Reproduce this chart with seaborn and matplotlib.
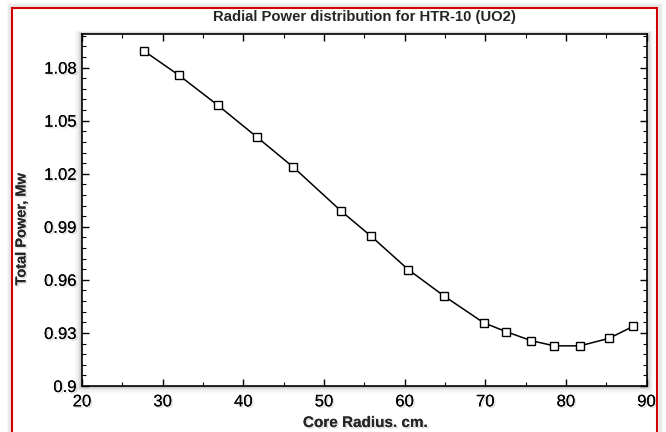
import matplotlib
matplotlib.use("Agg")
import matplotlib.pyplot as plt
from matplotlib.patches import Rectangle
from matplotlib.ticker import MultipleLocator, FormatStrFormatter
import matplotlib.patheffects as pe
import seaborn as sns
import pandas as pd

radius = [27.66, 32.05, 36.88, 41.75, 46.21, 52.16, 55.87, 60.46, 64.92,
          69.79, 72.60, 75.66, 78.55, 81.73, 85.33, 88.38]
power = [1.0895, 1.0756, 1.0586, 1.0405, 1.0237, 0.9988, 0.9846, 0.9658,
         0.9508, 0.9358, 0.9307, 0.9257, 0.9227, 0.9227, 0.9269, 0.9338]

title = "Radial Power distribution for HTR-10 (UO2)"
xlabel = "Core Radius. cm."
ylabel = "Total Power, Mw"

df = pd.DataFrame({"radius": radius, "power": power})

sns.set_theme(style="white")
plt.rcParams['font.family'] = ['Liberation Sans', 'DejaVu Sans']

W, H = 666, 432
fig = plt.figure(figsize=(W / 100, H / 100), dpi=100)
fig.patch.set_facecolor("white")

# soft shadow outside the red frame
for i, a in enumerate([0.04, 0.07, 0.10]):
    off = 4 - i
    fig.add_artist(Rectangle(((12 - off) / W, -0.05), (645 + 2 * off) / W,
                             (424 + off) / H + 0.05,
                             transform=fig.transFigure, fill=False,
                             edgecolor="gray", lw=2.5, alpha=a, zorder=0))
fig.add_artist(Rectangle((12 / W, -0.01), 645 / W, 424 / H + 0.01,
                         transform=fig.transFigure, fill=False,
                         edgecolor="#d40000", lw=1.5, zorder=5))

l, r, t, b = 82, 646.5, 34, 386
ax = fig.add_axes([l / W, 1 - b / H, (r - l) / W, (b - t) / H])

# axes glow / drop shadow
for i, a in enumerate([0.04, 0.06, 0.09, 0.12, 0.16]):
    off = 7 - 1.3 * i
    fig.add_artist(Rectangle(((l - off) / W, 1 - (b + off) / H),
                             (r - l + 2 * off) / W, (b - t + 1.5 * off) / H,
                             transform=fig.transFigure,
                             facecolor="gray", edgecolor="none", alpha=a, zorder=0))

sns.lineplot(data=df, x="radius", y="power", ax=ax, color="black", lw=1.1,
             marker="s", markersize=6.2, markerfacecolor="white",
             markeredgecolor="black", markeredgewidth=1.0)

ax.set_xlim(20, 90)
ax.set_ylim(0.9, 1.099)
ax.xaxis.set_major_locator(MultipleLocator(10))
ax.xaxis.set_minor_locator(MultipleLocator(5))
ax.yaxis.set_major_locator(MultipleLocator(0.03))
ax.yaxis.set_minor_locator(MultipleLocator(0.006))
ax.yaxis.set_major_formatter(FormatStrFormatter("%g"))
ax.tick_params(which="both", direction="in", top=True, right=True,
               bottom=True, left=True, colors="black", labelsize=12)
ax.tick_params(which="major", length=5, width=1)
ax.tick_params(which="minor", length=3, width=0.8)
ax.tick_params(axis="x", pad=6)
ax.tick_params(axis="y", pad=4)
for s in ax.spines.values():
    s.set_color("black")
    s.set_linewidth(1.2)
ax.set_facecolor("white")
ax.set_xlabel("")
ax.set_ylabel("")

shadow = [pe.withSimplePatchShadow(offset=(1.2, -1.2), shadow_rgbFace="gray", alpha=0.25),
          pe.Normal()]
for lab in ax.get_xticklabels() + ax.get_yticklabels():
    lab.set_path_effects(shadow)

fig.text(365.5 / W, 1 - 423 / H, xlabel, ha="center", va="center",
         fontsize=11, fontweight="bold", path_effects=shadow)
fig.text(21.5 / W, 1 - 229 / H, ylabel, ha="center", va="center",
         rotation=90, fontsize=10.5, fontweight="bold", path_effects=shadow)
fig.text(364 / W, 1 - 16.7 / H, title, ha="center", va="center",
         fontsize=10.7, fontweight="bold")

fig.savefig("out.png", dpi=100)
